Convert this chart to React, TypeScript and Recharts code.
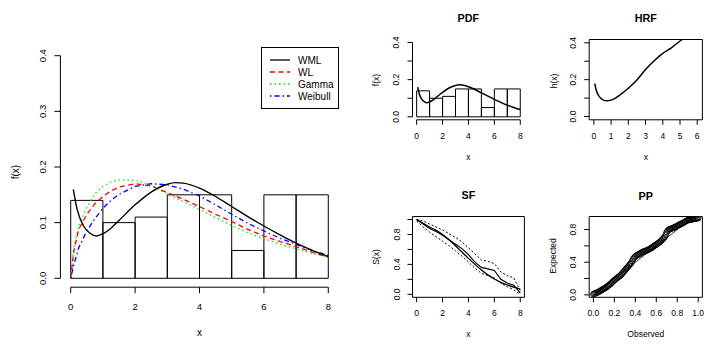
import {
  ComposedChart,
  Line,
  Scatter,
  XAxis,
  YAxis,
  ReferenceArea,
  ReferenceLine,
  Legend,
} from "recharts";

const FONT = '"Liberation Sans", Arial, Helvetica, sans-serif';
const W = 712;
const H = 349;
const AXW = 20;

// histogram (density, bins of width 1)
const binStarts = [0, 1, 2, 3, 4, 5, 6, 7];
const binHeights = [0.14, 0.1, 0.11, 0.15, 0.15, 0.05, 0.15, 0.15];

// fitted densities
const wmlX = [0.08, 0.2, 0.4, 0.6, 0.8, 1, 1.25, 1.5, 2, 2.5, 3, 3.25, 3.5, 4, 4.5, 5, 5.5, 6, 6.5, 7, 7.5, 8];
const wmlY = [0.16, 0.124, 0.094, 0.081, 0.076, 0.08, 0.09, 0.104, 0.132, 0.155, 0.169, 0.172, 0.171, 0.162, 0.147, 0.129, 0.111, 0.094, 0.078, 0.063, 0.05, 0.039];
const gridX = [0, 0.1, 0.25, 0.5, 0.75, 1, 1.25, 1.5, 2, 2.5, 3, 3.5, 4, 4.5, 5, 5.5, 6, 6.5, 7, 7.5, 8];
const wlY = [0, 0.05, 0.088, 0.115, 0.134, 0.147, 0.157, 0.164, 0.17, 0.166, 0.154, 0.142, 0.129, 0.115, 0.102, 0.088, 0.076, 0.066, 0.057, 0.047, 0.038];
const gammaY = [0, 0.055, 0.095, 0.128, 0.152, 0.165, 0.173, 0.177, 0.176, 0.167, 0.152, 0.138, 0.124, 0.109, 0.095, 0.082, 0.071, 0.061, 0.053, 0.045, 0.038];
const weibullY = [0, 0.025, 0.055, 0.085, 0.107, 0.126, 0.14, 0.151, 0.165, 0.17, 0.168, 0.16, 0.148, 0.132, 0.115, 0.099, 0.085, 0.072, 0.061, 0.05, 0.041];

// hazard rate
const hrfX = [0.05, 0.15, 0.3, 0.5, 0.75, 1, 1.25, 1.5, 2, 2.5, 3, 3.5, 4, 4.5, 5, 5.5, 6];
const hrfY = [0.178, 0.14, 0.11, 0.092, 0.085, 0.089, 0.1, 0.116, 0.153, 0.198, 0.255, 0.303, 0.343, 0.373, 0.41, 0.445, 0.48];

// survival
const sfX = [0, 0.5, 1, 1.5, 2, 2.5, 3, 3.5, 4, 4.5, 5, 5.5, 6, 6.5, 7, 7.5, 8];
const sfEmp = [1.0, 0.94, 0.88, 0.84, 0.79, 0.73, 0.67, 0.61, 0.53, 0.43, 0.36, 0.34, 0.32, 0.2, 0.15, 0.12, 0.02];
const sfFit = [1.0, 0.95, 0.9, 0.855, 0.8, 0.73, 0.65, 0.565, 0.48, 0.4, 0.325, 0.26, 0.205, 0.16, 0.125, 0.095, 0.07];
const sfUpper = [1.0, 0.98, 0.94, 0.9, 0.86, 0.81, 0.76, 0.7, 0.62, 0.54, 0.46, 0.44, 0.41, 0.3, 0.25, 0.22, 0.05];
const sfLower = [0.98, 0.9, 0.83, 0.77, 0.71, 0.65, 0.58, 0.51, 0.43, 0.35, 0.28, 0.25, 0.22, 0.15, 0.1, 0.06, 0.0];

// P-P plot
const ppObserved = [
  0, 0.01, 0.02, 0.03, 0.04, 0.05, 0.06, 0.07, 0.08, 0.09, 0.1, 0.11, 0.12, 0.13, 0.14, 0.15, 0.16, 0.17, 0.18, 0.19,
  0.2, 0.21, 0.22, 0.23, 0.24, 0.25, 0.26, 0.27, 0.28, 0.29, 0.3, 0.31, 0.32, 0.33, 0.34, 0.35, 0.36, 0.37, 0.38, 0.39,
  0.4, 0.41, 0.42, 0.43, 0.44, 0.45, 0.46, 0.47, 0.48, 0.49, 0.5, 0.51, 0.52, 0.53, 0.54, 0.55, 0.56, 0.57, 0.58, 0.59,
  0.6, 0.61, 0.62, 0.63, 0.64, 0.65, 0.66, 0.67, 0.68, 0.69, 0.7, 0.71, 0.72, 0.73, 0.74, 0.75, 0.76, 0.77, 0.78, 0.79,
  0.8, 0.81, 0.82, 0.83, 0.84, 0.85, 0.86, 0.87, 0.88, 0.89, 0.9, 0.91, 0.92, 0.93, 0.94, 0.95, 0.96, 0.97, 0.98, 0.99, 1.0,
];
const ppExpected = [
  0.01, 0.015, 0.02, 0.025, 0.03, 0.038, 0.045, 0.052, 0.06, 0.068, 0.075, 0.082, 0.09, 0.1, 0.11, 0.12, 0.13, 0.142, 0.155, 0.168,
  0.18, 0.19, 0.2, 0.21, 0.22, 0.23, 0.24, 0.255, 0.27, 0.285, 0.3, 0.315, 0.33, 0.345, 0.36, 0.375, 0.39, 0.415, 0.44, 0.458,
  0.47, 0.48, 0.49, 0.495, 0.5, 0.51, 0.52, 0.525, 0.53, 0.535, 0.54, 0.545, 0.55, 0.558, 0.565, 0.572, 0.58, 0.59, 0.6, 0.608,
  0.615, 0.625, 0.635, 0.645, 0.655, 0.668, 0.68, 0.695, 0.71, 0.74, 0.77, 0.788, 0.8, 0.805, 0.81, 0.815, 0.82, 0.825, 0.83, 0.838,
  0.845, 0.853, 0.86, 0.865, 0.87, 0.878, 0.885, 0.893, 0.9, 0.908, 0.915, 0.918, 0.92, 0.923, 0.925, 0.928, 0.93, 0.933, 0.935, 0.938, 0.94,
];

const series = [
  { name: "WML", color: "#000000", dash: undefined as string | undefined },
  { name: "WL", color: "#FF0000", dash: "5 3.5" },
  { name: "Gamma", color: "#00EE00", dash: "1.5 3" },
  { name: "Weibull", color: "#0000FF", dash: "1.5 3 5 3" },
];

const zip = (xs: number[], ys: number[]) => xs.map((x, i) => ({ x, y: ys[i] }));

type Box = { l: number; t: number; r: number; b: number };
const marginFor = (b: Box) => ({ left: b.l - AXW, top: b.t, right: W - b.r, bottom: H - b.b - AXW });

const near = (list: number[], v: number) => list.some((s) => Math.abs(s - v) < 1e-9);

const xTick = (labelY: number, fs: number, fmt: (v: number) => string) => (p: any) => (
  <text x={p.x} y={labelY} textAnchor="middle" dominantBaseline="central" fontSize={fs} fontFamily={FONT} fill="#000">
    {fmt(p.payload.value)}
  </text>
);

const yTick = (labelX: number, fs: number, show: number[]) => (p: any) => {
  const v = p.payload.value;
  if (!near(show, v)) return <g />;
  return (
    <text
      x={labelX}
      y={p.y}
      transform={`rotate(-90 ${labelX} ${p.y})`}
      textAnchor="middle"
      dominantBaseline="central"
      fontSize={fs}
      fontFamily={FONT}
      fill="#000"
    >
      {v.toFixed(1)}
    </text>
  );
};

const abs = { position: "absolute" as const, left: 0, top: 0 };

function MainLegend() {
  return (
    <svg width={78} height={62} style={{ display: "block" }}>
      <rect x={0.5} y={0.5} width={77} height={61} fill="#fff" stroke="#000" />
      {series.map((s, i) => (
        <g key={s.name}>
          <line x1={9} x2={29} y1={13 + 12 * i} y2={13 + 12 * i} stroke={s.color} strokeWidth={1.3} strokeDasharray={s.dash} />
          <text x={37} y={13 + 12 * i} dominantBaseline="central" fontSize={10} fontFamily={FONT} fill="#000">
            {s.name}
          </text>
        </g>
      ))}
    </svg>
  );
}

const mainBox: Box = { l: 60.4, t: 46.8, r: 338.6, b: 287.2 };
const pdfBox: Box = { l: 412.5, t: 39.5, r: 524.4, b: 119.8 };
const hrfBox: Box = { l: 589.2, t: 39.5, r: 702.4, b: 119.8 };
const sfBox: Box = { l: 412.5, t: 216.5, r: 524.4, b: 297.3 };
const ppBox: Box = { l: 589.2, t: 216.5, r: 702.4, b: 297.3 };

const histAreas = (sw: number) =>
  binStarts.map((x0, i) => (
    <ReferenceArea
      key={`bin-${i}`}
      x1={x0}
      x2={x0 + 1}
      y1={0}
      y2={binHeights[i]}
      fill="none"
      fillOpacity={0}
      stroke="#000"
      strokeWidth={sw}
      ifOverflow="visible"
    />
  ));

const boxFrame = (x: [number, number], y: [number, number]) => (
  <ReferenceArea x1={x[0]} x2={x[1]} y1={y[0]} y2={y[1]} fill="none" fillOpacity={0} stroke="#000" strokeWidth={1} ifOverflow="visible" />
);

export default function App() {
  const small = 8.5;
  return (
    <div style={{ position: "absolute", left: 0, top: 0, width: W, height: H, background: "#fff", fontFamily: FONT }}>
      {/* main histogram + fitted densities */}
      <div style={abs}>
        <ComposedChart width={W} height={H} margin={marginFor(mainBox)}>
          <XAxis type="number" dataKey="x" domain={[-0.32, 8.32]} allowDataOverflow ticks={[0, 2, 4, 6, 8]} interval={0}
            height={AXW} axisLine={false} tickSize={6} tickLine={{ stroke: "#000" }} tick={xTick(306, 9.5, (v) => String(v))} />
          <YAxis type="number" domain={[-0.016, 0.416]} allowDataOverflow ticks={[0, 0.1, 0.2, 0.3, 0.4]} interval={0}
            width={AXW} axisLine={false} tickSize={6} tickLine={{ stroke: "#000" }} tick={yTick(42.7, 9.5, [0, 0.1, 0.2, 0.3, 0.4])} />
          {histAreas(1)}
          <ReferenceLine segment={[{ x: 0, y: -0.016 }, { x: 8, y: -0.016 }]} stroke="#000" ifOverflow="visible" />
          <ReferenceLine segment={[{ x: -0.32, y: 0 }, { x: -0.32, y: 0.4 }]} stroke="#000" ifOverflow="visible" />
          <Line data={zip(gridX, gammaY)} dataKey="y" stroke={series[2].color} strokeDasharray={series[2].dash} strokeWidth={1.3} dot={false} isAnimationActive={false} />
          <Line data={zip(gridX, wlY)} dataKey="y" stroke={series[1].color} strokeDasharray={series[1].dash} strokeWidth={1.3} dot={false} isAnimationActive={false} />
          <Line data={zip(gridX, weibullY)} dataKey="y" stroke={series[3].color} strokeDasharray={series[3].dash} strokeWidth={1.3} dot={false} isAnimationActive={false} />
          <Line data={zip(wmlX, wmlY)} dataKey="y" type="monotone" stroke="#000" strokeWidth={1.4} dot={false} isAnimationActive={false} />
          <Legend layout="horizontal" verticalAlign="middle" align="center"
            wrapperStyle={{ left: 261, top: 47, width: 78, height: 62 }} content={() => <MainLegend />} />
        </ComposedChart>
      </div>

      {/* PDF */}
      <div style={abs}>
        <ComposedChart width={W} height={H} margin={marginFor(pdfBox)}>
          <XAxis type="number" dataKey="x" domain={[-0.32, 8.32]} allowDataOverflow ticks={[0, 2, 4, 6, 8]} interval={0}
            height={AXW} axisLine={false} tickSize={5} tickLine={{ stroke: "#000" }} tick={xTick(136, small, (v) => String(v))} />
          <YAxis type="number" domain={[-0.016, 0.416]} allowDataOverflow ticks={[0, 0.1, 0.2, 0.3, 0.4]} interval={0}
            width={AXW} axisLine={false} tickSize={5} tickLine={{ stroke: "#000" }} tick={yTick(396, small, [0, 0.2, 0.4])} />
          {histAreas(1)}
          <ReferenceLine segment={[{ x: 0, y: -0.016 }, { x: 8, y: -0.016 }]} stroke="#000" ifOverflow="visible" />
          <ReferenceLine segment={[{ x: -0.32, y: 0 }, { x: -0.32, y: 0.4 }]} stroke="#000" ifOverflow="visible" />
          <Line data={zip(wmlX, wmlY)} dataKey="y" type="monotone" stroke="#000" strokeWidth={1.5} dot={false} isAnimationActive={false} />
        </ComposedChart>
      </div>

      {/* HRF */}
      <div style={abs}>
        <ComposedChart width={W} height={H} margin={marginFor(hrfBox)}>
          <XAxis type="number" dataKey="x" domain={[-0.27, 6.3]} allowDataOverflow ticks={[0, 1, 2, 3, 4, 5, 6]} interval={0}
            height={AXW} axisLine={false} tickSize={5} tickLine={{ stroke: "#000" }} tick={xTick(136, small, (v) => String(v))} />
          <YAxis type="number" domain={[-0.018, 0.418]} allowDataOverflow ticks={[0, 0.1, 0.2, 0.3, 0.4]} interval={0}
            width={AXW} axisLine={false} tickSize={5} tickLine={{ stroke: "#000" }} tick={yTick(573.3, small, [0, 0.2, 0.4])} />
          {boxFrame([-0.27, 6.3], [-0.018, 0.418])}
          <Line data={zip(hrfX, hrfY)} dataKey="y" type="monotone" stroke="#000" strokeWidth={1.5} dot={false} isAnimationActive={false} />
        </ComposedChart>
      </div>

      {/* SF */}
      <div style={abs}>
        <ComposedChart width={W} height={H} margin={marginFor(sfBox)}>
          <XAxis type="number" dataKey="x" domain={[-0.32, 8.32]} allowDataOverflow ticks={[0, 2, 4, 6, 8]} interval={0}
            height={AXW} axisLine={false} tickSize={5} tickLine={{ stroke: "#000" }} tick={xTick(313.3, small, (v) => String(v))} />
          <YAxis type="number" domain={[-0.04, 1.04]} allowDataOverflow ticks={[0, 0.2, 0.4, 0.6, 0.8, 1]} interval={0}
            width={AXW} axisLine={false} tickSize={5} tickLine={{ stroke: "#000" }} tick={yTick(397.3, small, [0, 0.4, 0.8])} />
          {boxFrame([-0.32, 8.32], [-0.04, 1.04])}
          <Line data={zip(sfX, sfUpper)} dataKey="y" stroke="#000" strokeDasharray="2 2" strokeWidth={1} dot={false} isAnimationActive={false} />
          <Line data={zip(sfX, sfLower)} dataKey="y" stroke="#000" strokeDasharray="2 2" strokeWidth={1} dot={false} isAnimationActive={false} />
          <Line data={zip(sfX, sfEmp)} dataKey="y" stroke="#000" strokeWidth={1.1} dot={false} isAnimationActive={false} />
          <Line data={zip(sfX, sfFit)} dataKey="y" type="monotone" stroke="#000" strokeWidth={1.3} dot={false} isAnimationActive={false} />
        </ComposedChart>
      </div>

      {/* PP */}
      <div style={abs}>
        <ComposedChart width={W} height={H} margin={marginFor(ppBox)}>
          <XAxis type="number" dataKey="x" domain={[-0.04, 1.04]} allowDataOverflow ticks={[0, 0.2, 0.4, 0.6, 0.8, 1]} interval={0}
            height={AXW} axisLine={false} tickSize={5} tickLine={{ stroke: "#000" }} tick={xTick(313.3, small, (v) => v.toFixed(1))} />
          <YAxis type="number" dataKey="y" domain={[-0.03, 0.96]} allowDataOverflow ticks={[0, 0.2, 0.4, 0.6, 0.8]} interval={0}
            width={AXW} axisLine={false} tickSize={5} tickLine={{ stroke: "#000" }} tick={yTick(573.3, small, [0, 0.4, 0.8])} />
          {boxFrame([-0.04, 1.04], [-0.03, 0.96])}
          <ReferenceLine segment={[{ x: 0, y: 0 }, { x: 0.96, y: 0.96 }]} stroke="#000" strokeWidth={0.8} ifOverflow="visible" />
          <Scatter data={zip(ppObserved, ppExpected)} dataKey="y" isAnimationActive={false}
            shape={(p: any) => <circle cx={p.cx} cy={p.cy} r={2.8} fill="none" stroke="#000" strokeWidth={0.9} />} />
        </ComposedChart>
      </div>

      {/* titles and axis labels */}
      <svg width={W} height={H} style={{ ...abs, pointerEvents: "none" }} fontFamily={FONT}>
        <g fontSize={10} fill="#000" textAnchor="middle" dominantBaseline="central">
          <text x={199.5} y={332}>x</text>
          <text x={15} y={172} transform="rotate(-90 15 172)">f(x)</text>
        </g>
        <g fontSize={10.8} fontWeight="bold" fill="#000" textAnchor="middle" dominantBaseline="central">
          <text x={468.4} y={18}>PDF</text>
          <text x={645.8} y={18}>HRF</text>
          <text x={468.4} y={195}>SF</text>
          <text x={645.8} y={196}>PP</text>
        </g>
        <g fontSize={small} fill="#000" textAnchor="middle" dominantBaseline="central">
          <text x={468.4} y={157}>x</text>
          <text x={376} y={80} transform="rotate(-90 376 80)">f(x)</text>
          <text x={645.8} y={157}>x</text>
          <text x={554} y={81} transform="rotate(-90 554 81)">h(x)</text>
          <text x={468.4} y={334}>x</text>
          <text x={376} y={257} transform="rotate(-90 376 257)">S(x)</text>
          <text x={645.8} y={333.5}>Observed</text>
          <text x={553.3} y={256} transform="rotate(-90 553.3 256)">Expected</text>
        </g>
      </svg>
    </div>
  );
}
